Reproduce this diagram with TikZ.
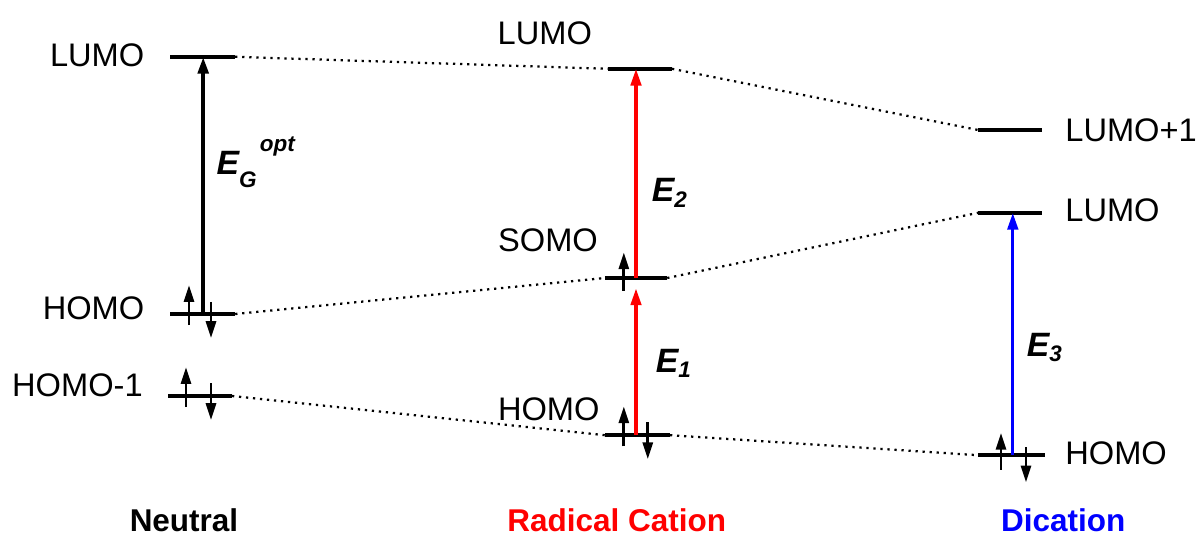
\documentclass[tikz,border=0pt]{standalone}
\usepackage{fontspec}
\setmainfont{Liberation Sans}
\usetikzlibrary{arrows.meta,calc}

\begin{document}
\begin{tikzpicture}[
  level/.style={line width=1.35pt},
  link/.style={line width=0.8pt,dash pattern=on 0.8pt off 1.7pt},
  spin/.style={line width=1pt,-{Triangle[length=2.1mm,width=1.25mm]}},
  exc/.style={-{Triangle[length=2.1mm,width=1.3mm]}},
  lbl/.style={inner sep=0pt,font=\fontsize{11.6}{14}\selectfont},
  elbl/.style={inner sep=0pt,anchor=base west,font=\fontsize{12}{14}\selectfont\bfseries\itshape},
  state/.style={inner sep=0pt,anchor=base,font=\fontsize{11.2}{13}\selectfont\bfseries}]
\useasboundingbox (0,0) rectangle (15,-6.7);

% energy levels: name/left/right/height
\foreach \nm/\xa/\xb/\y in {nL/2.125/2.94/-0.71, nH/2.125/2.94/-3.925, nHm/2.1/2.9/-4.95,
   rL/7.6/8.4/-0.86, rS/7.56/8.34/-3.475, rH/7.56/8.375/-5.44,
   dLp/12.225/13.025/-1.625, dL/12.225/13.025/-2.66, dH/12.225/13.06/-5.69}
{
  \coordinate (\nm-l) at (\xa,\y);
  \coordinate (\nm-r) at (\xb,\y);
  \draw[level] (\nm-l) -- (\nm-r);
}

% correlation lines
\draw[link] (nL-r) -- (rL-l);
\draw[link] (rL-r) -- (dLp-l);
\draw[link] (nH-r) -- (rS-l);
\draw[link] (rS-r) -- (dL-l);
\draw[link] (nHm-r) -- (rH-l);
\draw[link] (rH-r) -- (dH-l);

% transitions
\coordinate (xN) at (2.54,0);
\coordinate (xR) at (7.95,0);
\coordinate (xD) at (12.66,0);
\draw[exc,line width=1.45pt] (xN |- nH-l) -- (xN |- nL-l);
\draw[exc,red,line width=1.2pt] (xR |- rS-l) -- (xR |- rL-l);
\draw[exc,red,line width=1.2pt,shorten >=1.3mm] (xR |- rH-l) -- (xR |- rS-l);
\draw[exc,blue,line width=1.2pt] (xD |- dH-l) -- (xD |- dL-l);

% electrons
\draw[spin] (nH-l) ++(0.2375,-0.14) -- ++(0,0.5);
\draw[spin] (nH-l) ++(0.5125,0.15) -- ++(0,-0.45);
\draw[spin] (nHm-l) ++(0.225,-0.14) -- ++(0,0.5);
\draw[spin] (nHm-l) ++(0.5375,0.16) -- ++(0,-0.46);
\draw[spin] (rS-l) ++(0.2375,-0.16) -- ++(0,0.48);
\draw[spin] (rH-l) ++(0.2375,-0.14) -- ++(0,0.5);
\draw[spin] (rH-l) ++(0.5375,0.16) -- ++(0,-0.46);
\draw[spin] (dH-l) ++(0.2875,-0.18) -- ++(0,0.46);
\draw[spin] (dH-l) ++(0.6,0.1) -- ++(0,-0.44);

% level names
\node[lbl,anchor=base east] (tnL) at (1.81,-0.8375) {LUMO};
\node[lbl,anchor=base east] (tnH) at (1.81,-4.0) {HOMO};
\node[lbl,anchor=base east] (tnHm) at (1.79,-4.96) {HOMO-1};
\node[lbl,anchor=base] (trL) at (6.81,-0.5625) {LUMO};
\node[lbl,anchor=base] (trS) at (6.85,-3.15) {SOMO};
\node[lbl,anchor=base] (trH) at (6.86,-5.25) {HOMO};
\node[lbl,anchor=base west] (tdLp) at (13.31,-1.775) {LUMO+1};
\node[lbl,anchor=base west] (tdL) at (13.31,-2.775) {LUMO};
\node[lbl,anchor=base west] (tdH) at (13.31,-5.81) {HOMO};

% energies
\node[elbl] (eg) at (2.7,-2.1875) {E\raisebox{-4.5pt}{\fontsize{8}{9}\selectfont G}\hspace{1.2pt}\raisebox{8.5pt}{\fontsize{8}{9}\selectfont opt}};
\node[elbl] (e2) at (8.14,-2.525) {E\raisebox{-1.8pt}{\fontsize{8}{9}\selectfont 2}};
\node[elbl] (e1) at (8.19,-4.66) {E\raisebox{-1.8pt}{\fontsize{8}{9}\selectfont 1}};
\node[elbl] (e3) at (12.83,-4.46) {E\raisebox{-1.8pt}{\fontsize{8}{9}\selectfont 3}};

% species
\node[state] (neu) at (2.3,-6.65) {Neutral};
\node[state,red] (rad) at (7.71,-6.65) {Radical Cation};
\node[state,blue] (dic) at (13.29,-6.65) {Dication};
\end{tikzpicture}
\end{document}
